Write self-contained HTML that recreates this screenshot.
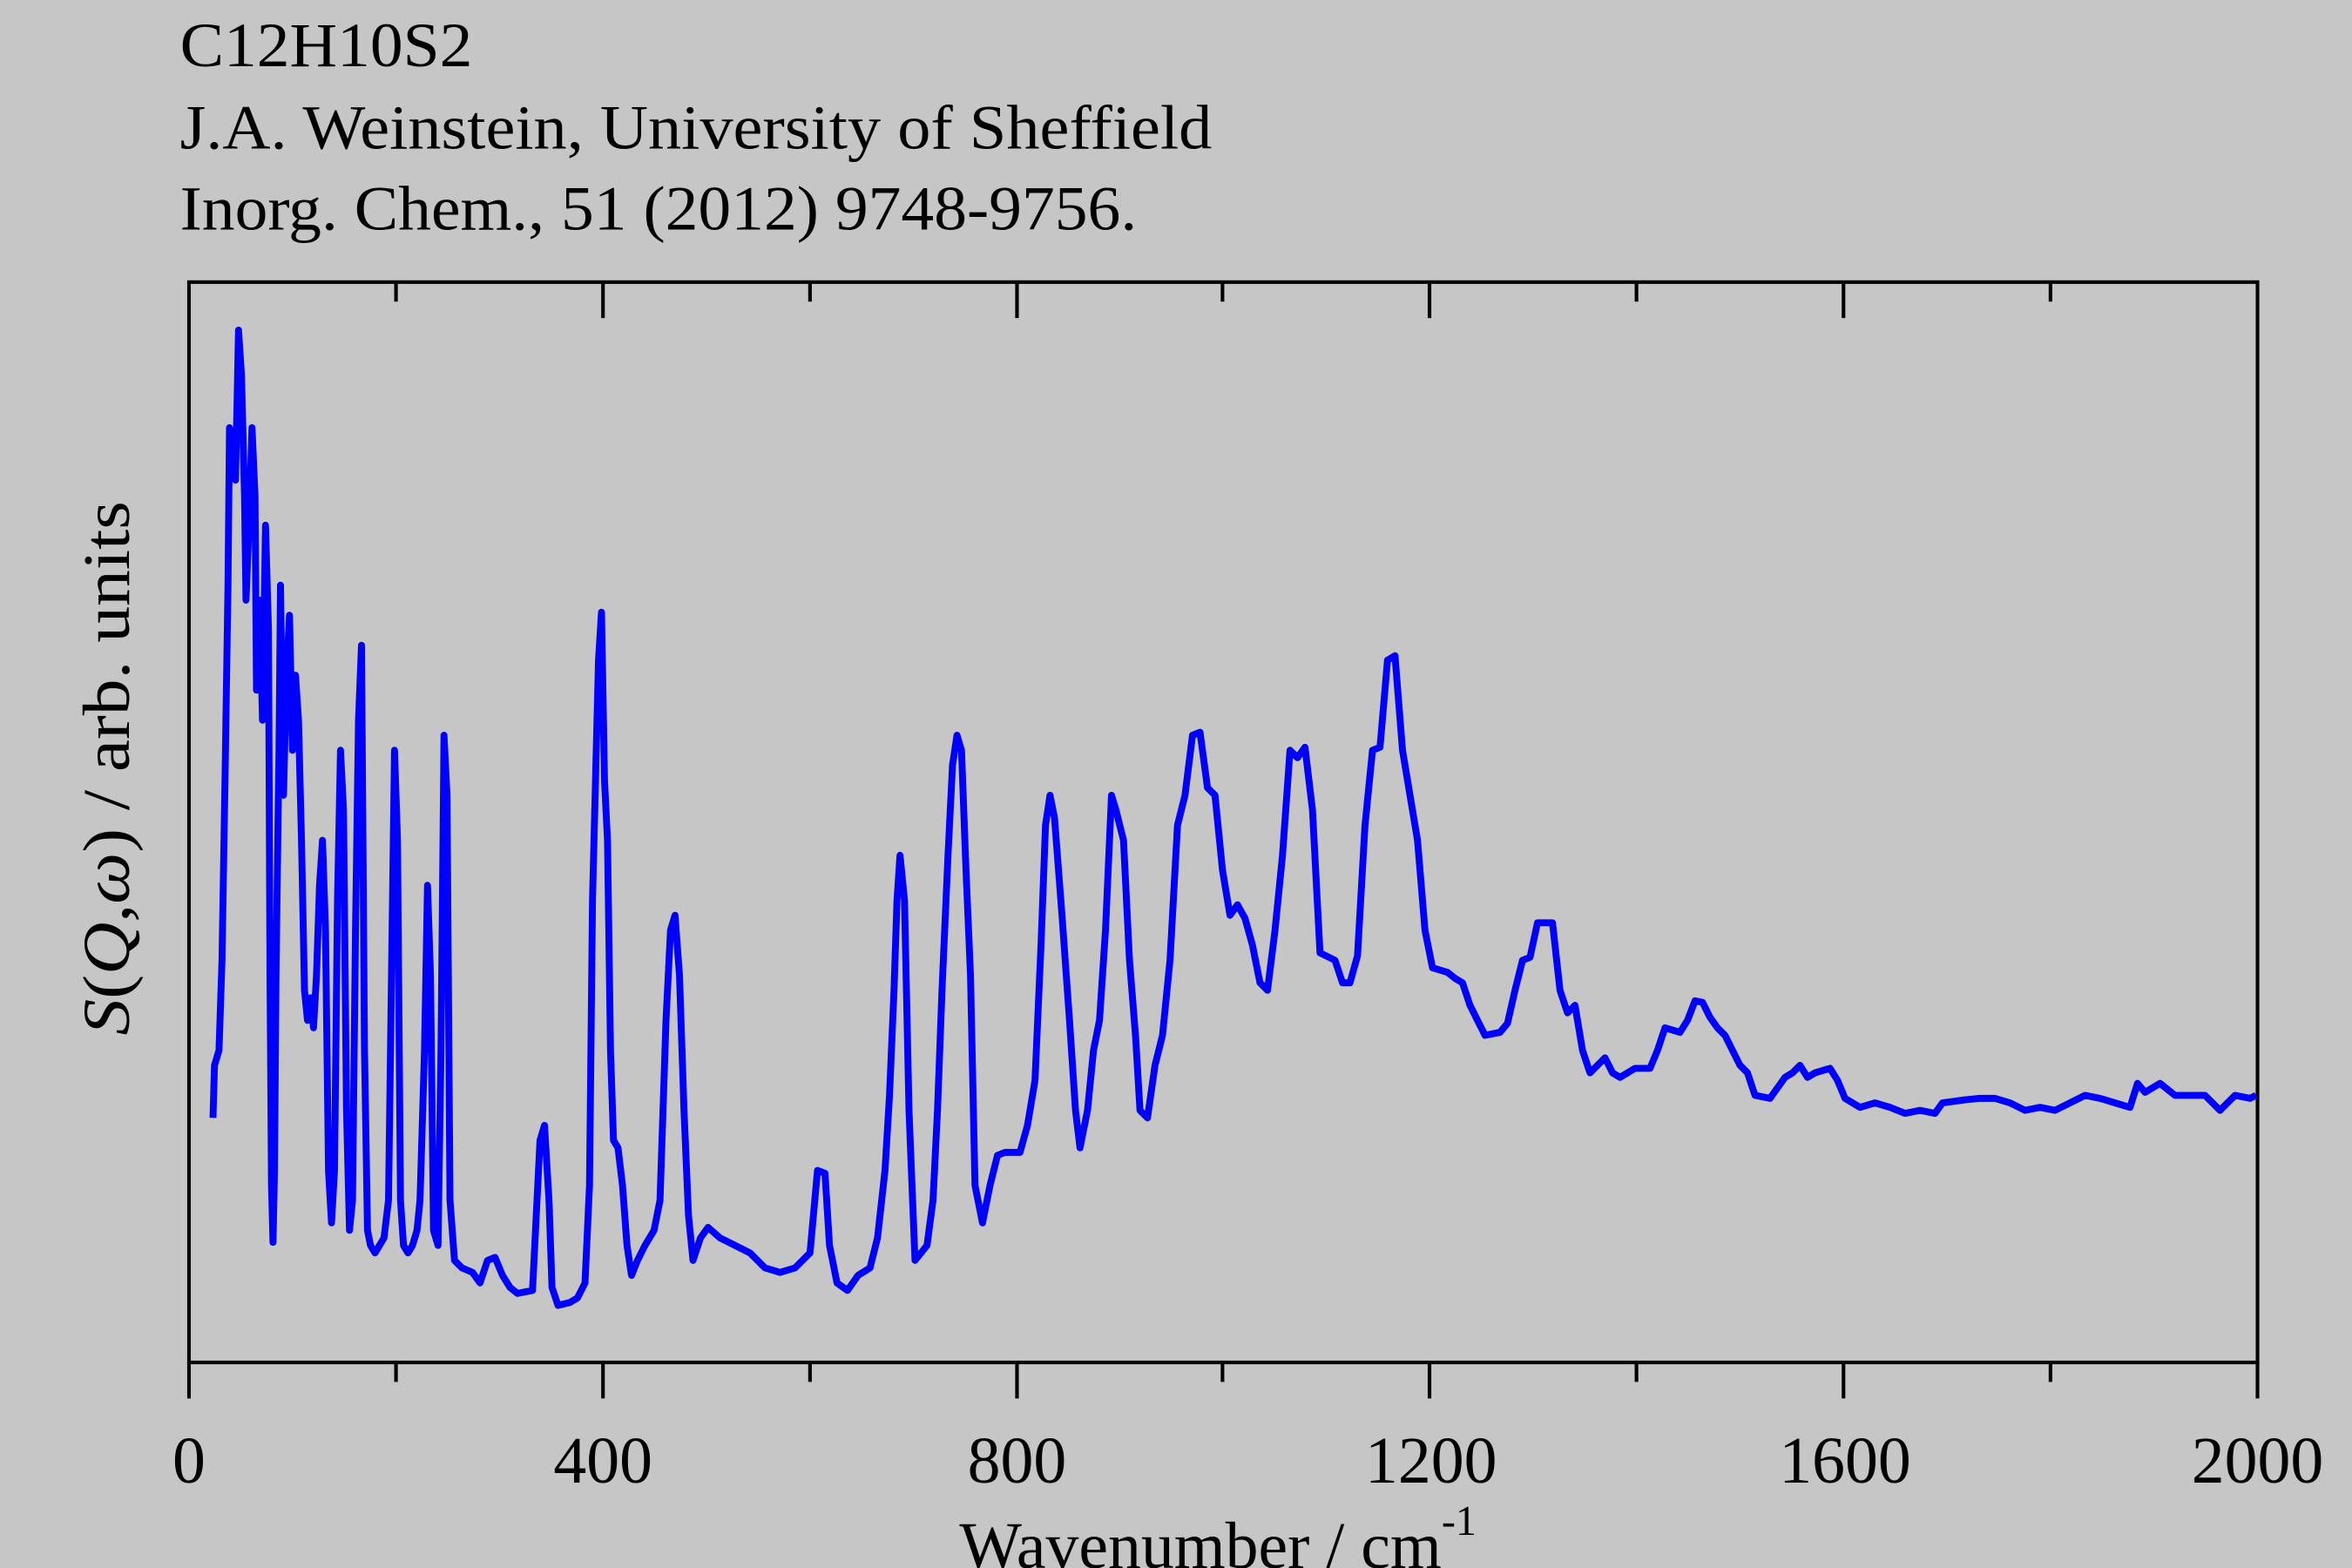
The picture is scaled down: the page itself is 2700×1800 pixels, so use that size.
<!DOCTYPE html>
<html><head><style>html,body{margin:0;padding:0;background:#c6c6c6;}svg{display:block;}</style></head>
<body>
<svg width="2700" height="1800" viewBox="0 0 1568 1045" preserveAspectRatio="none" xmlns="http://www.w3.org/2000/svg">
<rect width="1568" height="1045" fill="#c6c6c6"/>
<g font-family="Liberation Serif, serif" font-size="42" fill="#000">
<text x="120" y="44" textLength="195" lengthAdjust="spacingAndGlyphs">C12H10S2</text>
<text x="120" y="99" textLength="688" lengthAdjust="spacingAndGlyphs">J.A. Weinstein, University of Sheffield</text>
<text x="120" y="153" textLength="638" lengthAdjust="spacingAndGlyphs">Inorg. Chem., 51 (2012) 9748-9756.</text>
<g text-anchor="middle" font-size="44">
<text x="126" y="988">0</text><text x="402" y="988">400</text><text x="678" y="988">800</text><text x="954" y="988">1200</text><text x="1230" y="988">1600</text><text x="1505" y="988">2000</text>
<text x="812" y="1045">Wavenumber / cm<tspan font-size="28" dy="-22">-1</tspan></text>
<text transform="translate(86,512) rotate(-90)" textLength="356" lengthAdjust="spacingAndGlyphs"><tspan font-style="italic">S</tspan>(<tspan font-style="italic">Q</tspan>,<tspan font-style="italic">ω</tspan>) / arb. units</text>
</g></g>
<g stroke="#000" stroke-width="2.4" fill="none">
<rect x="126" y="188" width="1379" height="720"/>
<path d="M126 908v24M264 908v13M402 908v24M540 908v13M678 908v24M815 908v13M953 908v24M1091 908v13M1229 908v24M1367 908v13M1505 908v24
M264 188v13M402 188v24M540 188v13M678 188v24M815 188v13M953 188v24M1091 188v13M1229 188v24M1367 188v13"/>
</g>
<polyline fill="none" stroke="#0000ff" stroke-width="4.6" stroke-linejoin="round" points="142,745 143,710 146,700 148,640 150,520 152,390 153,285 155,300 157,320 159,220 161,250 163,330 164,400 166,350 168,285 170,330 171,460 173,400 175,480 177,350 179,420 180,650 181,790 182,828 183,780 184,650 186,500 187,390 189,530 191,450 193,410 195,500 197,450 199,480 201,560 203,660 205,680 207,665 209,685 211,650 213,590 215,560 217,620 219,780 221,815 223,780 225,600 227,500 229,540 231,740 233,820 235,800 237,620 239,480 241,430 243,700 245,820 247,830 250,835 253,830 256,825 259,800 261,650 263,500 265,560 267,800 269,830 272,835 275,830 278,820 280,800 283,700 285,590 287,650 289,820 292,830 294,700 296,490 298,530 300,800 303,840 308,845 315,848 320,855 325,840 330,838 335,850 340,858 345,862 355,860 360,760 363,750 366,800 368,858 372,870 380,868 385,865 390,855 393,790 395,600 397,520 399,440 401,408 403,520 405,560 407,700 409,760 412,765 415,790 418,830 421,850 425,840 430,830 436,820 440,800 444,680 447,620 450,610 453,650 456,740 459,810 462,840 467,825 472,818 480,825 490,830 500,835 510,845 520,848 530,845 540,835 545,780 550,782 553,830 558,855 565,860 572,850 580,845 585,825 590,780 593,730 596,660 598,600 600,570 603,600 606,740 610,840 618,830 622,800 625,740 628,660 632,570 635,510 638,490 641,500 644,580 647,650 650,790 655,815 660,790 665,770 670,768 680,768 685,750 690,720 694,630 697,550 700,530 703,545 708,610 713,680 717,740 720,765 725,740 729,700 733,680 737,620 741,530 744,540 749,560 753,640 757,690 760,740 765,745 770,710 775,690 780,640 785,550 790,530 795,490 800,488 805,525 810,530 815,580 820,610 825,603 830,612 835,630 840,655 845,660 850,620 855,570 860,500 865,505 870,498 875,540 880,635 890,640 895,655 900,655 905,637 910,550 915,500 920,498 925,440 930,437 935,500 940,530 945,560 950,620 955,645 965,648 970,652 975,655 980,670 985,680 990,690 1000,688 1005,682 1010,660 1015,640 1020,638 1025,615 1035,615 1040,660 1045,675 1050,670 1055,700 1060,715 1065,710 1070,705 1075,715 1080,718 1090,712 1100,712 1105,700 1110,685 1120,688 1125,680 1130,667 1135,668 1140,678 1145,685 1150,690 1155,700 1160,710 1165,715 1170,730 1180,732 1185,725 1190,718 1195,715 1200,710 1205,718 1210,715 1220,712 1225,720 1230,732 1240,738 1250,735 1260,738 1270,742 1280,740 1290,742 1295,735 1310,733 1320,732 1330,732 1340,735 1350,740 1360,738 1370,740 1380,735 1390,730 1400,732 1410,735 1420,738 1425,722 1430,728 1440,722 1450,730 1460,730 1470,730 1480,740 1490,730 1500,732 1504,730"/>
</svg>
</body></html>
